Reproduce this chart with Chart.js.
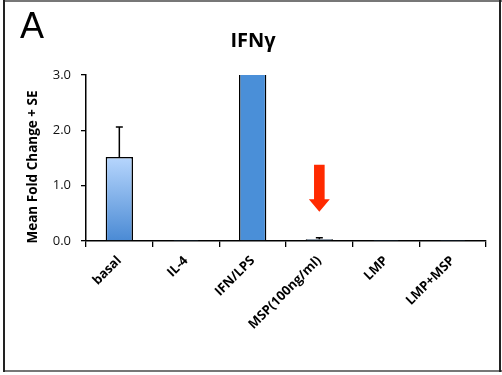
<!DOCTYPE html>
<html>
<head>
<meta charset="utf-8">
<script src="https://cdn.jsdelivr.net/npm/chart.js@4"></script>
<style>
  html, body { margin: 0; padding: 0; background: #fff; overflow: hidden; }
  #wrap { position: relative; width: 502px; height: 375px; }
  canvas { display: block; }
</style>
</head>
<body>
<div id="wrap"><canvas id="c" width="502" height="375"></canvas></div>
<script>
// Treatment groups along the x axis
const categories = ['basal', 'IL-4', 'IFN/LPS', 'MSP(100ng/ml)', 'LMP', 'LMP+MSP'];
// Mean fold change per group (IFN/LPS runs off the top of the 0–3 axis)
const meanFold = [1.52, 0.005, 3.2, 0.03, 0.005, 0.005];
// Upper standard error per group
const seUpper = [0.54, 0, 0, 0.03, 0, 0];
// Y axis tick values
const yTickValues = [0, 1, 2, 3];
// Highlight arrow over the MSP group: [tail value, tip value]
const arrowGroup = 'MSP(100ng/ml)';
const arrowSpan = [1.38, 0.53];

const FONT = '"Open Sans", Lato, "Liberation Sans", sans-serif';

function barFill(ctx) {
  const chart = ctx.chart;
  const area = chart.chartArea;
  if (!area) return '#4a8fd8';
  if (ctx.dataIndex === 0) {
    const ys = chart.scales.y;
    const top = ys.getPixelForValue(meanFold[0]);
    const bottom = ys.getPixelForValue(0);
    const g = chart.ctx.createLinearGradient(0, top, 0, bottom);
    g.addColorStop(0, '#b7d6fd');
    g.addColorStop(1, '#4a8ad4');
    return g;
  }
  return '#4a8fd8';
}

// Upward-only error bars
const errorBars = {
  id: 'errorBars',
  afterDatasetsDraw(chart) {
    const { ctx, scales: { y } } = chart;
    const meta = chart.getDatasetMeta(0);
    ctx.save();
    ctx.strokeStyle = '#000';
    ctx.lineWidth = 1.5;
    seUpper.forEach((se, i) => {
      if (!se) return;
      const x = meta.data[i].x;
      const y0 = y.getPixelForValue(meanFold[i]);
      const y1 = y.getPixelForValue(meanFold[i] + se);
      ctx.beginPath();
      ctx.moveTo(x, y0);
      ctx.lineTo(x, y1);
      ctx.moveTo(x - 3.5, y1);
      ctx.lineTo(x + 3.5, y1);
      ctx.stroke();
    });
    ctx.restore();
  }
};

// Red downward arrow, axis title, panel letter, heading and frame
const decorations = {
  id: 'decorations',
  afterDraw(chart) {
    const { ctx, scales: { x, y } } = chart;
    ctx.save();
    // arrow
    const ax = x.getPixelForValue(categories.indexOf(arrowGroup));
    const yTail = y.getPixelForValue(arrowSpan[0]);
    const yTip = y.getPixelForValue(arrowSpan[1]);
    const headLen = 12.5;
    ctx.fillStyle = '#ff2a00';
    ctx.beginPath();
    ctx.moveTo(ax - 5.3, yTail);
    ctx.lineTo(ax + 5.3, yTail);
    ctx.lineTo(ax + 5.3, yTip - headLen);
    ctx.lineTo(ax + 10.5, yTip - headLen);
    ctx.lineTo(ax, yTip);
    ctx.lineTo(ax - 10.5, yTip - headLen);
    ctx.lineTo(ax - 5.3, yTip - headLen);
    ctx.closePath();
    ctx.fill();

    // y axis title
    ctx.fillStyle = '#000';
    ctx.save();
    ctx.translate(33, 167);
    ctx.rotate(-Math.PI / 2);
    ctx.textAlign = 'center';
    ctx.textBaseline = 'middle';
    ctx.font = 'bold 13.5px ' + FONT;
    ctx.fillText('Mean Fold Change + SE', 0, 0);
    ctx.restore();

    // panel letter
    ctx.textBaseline = 'alphabetic';
    ctx.textAlign = 'left';
    ctx.font = '36px "Liberation Sans", Arial, sans-serif';
    ctx.fillText('A', 20, 38);

    // heading
    ctx.textAlign = 'center';
    ctx.font = 'bold 20px ' + FONT;
    ctx.fillText('IFNγ', 253, 47);

    // frame
    ctx.fillStyle = '#777';
    ctx.fillRect(3, 0, 499, 2);
    ctx.fillRect(3, 370, 499, 2);
    ctx.fillStyle = '#222';
    ctx.fillRect(3, 0, 2, 372);
    ctx.fillRect(499, 0, 2, 372);
    ctx.restore();
  }
};

new Chart(document.getElementById('c'), {
  type: 'bar',
  data: {
    labels: categories,
    datasets: [{
      data: meanFold,
      backgroundColor: barFill,
      borderColor: '#000',
      borderWidth: 1.5,
      borderSkipped: 'bottom',
      categoryPercentage: 1,
      barPercentage: 0.41,
      clip: 0
    }]
  },
  options: {
    responsive: false,
    animation: false,
    devicePixelRatio: 1,
    layout: { padding: { top: 75, right: 16, bottom: 0, left: 0 } },
    plugins: {
      legend: { display: false },
      title: { display: false },
      tooltip: { enabled: false }
    },
    scales: {
      x: {
        offset: true,
        grid: {
          offset: true,
          drawOnChartArea: false,
          drawTicks: true,
          tickLength: 6,
          color: '#000',
          lineWidth: 1.3
        },
        border: { display: true, color: '#000', width: 1.5 },
        ticks: {
          autoSkip: false,
          minRotation: 45,
          maxRotation: 45,
          padding: 6,
          color: '#000',
          font: { family: FONT, size: 13, weight: 'bold' }
        },
        afterFit(scale) { scale.height = 134; }
      },
      y: {
        min: 0,
        max: 3,
        afterBuildTicks(scale) { scale.ticks = yTickValues.map(v => ({ value: v })); },
        grid: {
          drawOnChartArea: false,
          drawTicks: true,
          tickLength: 5,
          color: '#000',
          lineWidth: 1.3
        },
        border: { display: true, color: '#000', width: 1.5 },
        ticks: {
          padding: 10,
          color: '#111',
          font: { family: FONT, size: 13 },
          callback: v => Number(v).toFixed(1)
        },
        afterFit(scale) { scale.width = 86; }
      }
    }
  },
  plugins: [errorBars, decorations]
});
</script>
</body>
</html>
